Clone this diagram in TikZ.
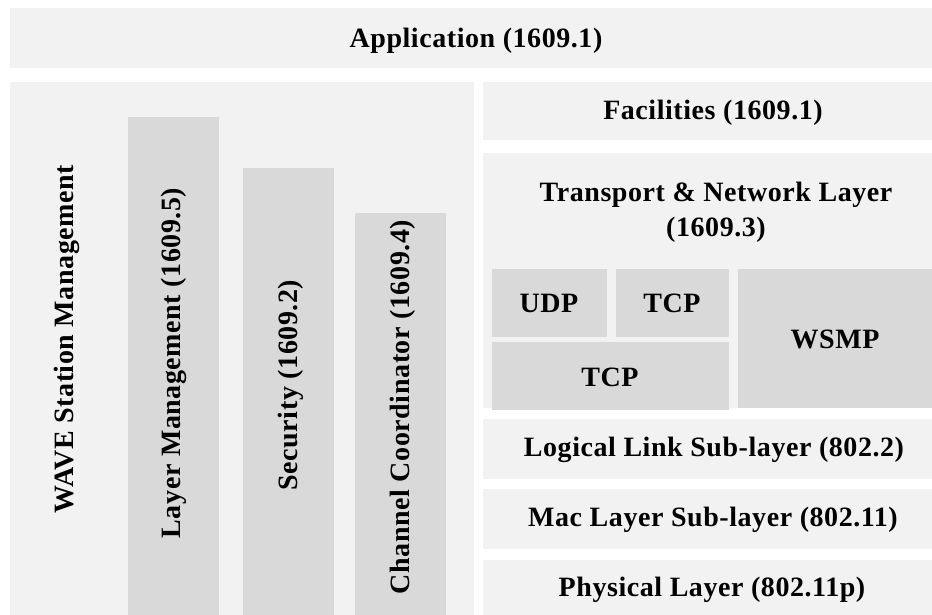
\documentclass[tikz,border=0pt]{standalone}
\usepackage{fontspec}
\setmainfont{Liberation Serif}[LetterSpace=2]
\definecolor{panel}{HTML}{F2F2F2}
\definecolor{bar}{HTML}{D9D9D9}
\begin{document}
\begin{tikzpicture}[x=1pt,y=-1pt,
  lbl/.style={font=\fontsize{28}{35}\selectfont\bfseries, text=black, inner sep=0pt, align=center},
  pbox/.style={fill=panel, draw=none},
  dbox/.style={fill=bar, draw=none}]
\fill[white] (0,0) rectangle (932,615);
\useasboundingbox (0,0) rectangle (932,615);
% panels
\fill[pbox] (10,8) rectangle (932,68);
\fill[pbox] (10,82) rectangle (474,615);
\fill[pbox] (483,82) rectangle (932,140);
\fill[pbox] (483,153) rectangle (932,408);
\fill[pbox] (483,419) rectangle (932,479);
\fill[pbox] (483,489) rectangle (932,549);
\fill[pbox] (483,560) rectangle (932,615);
% darker boxes
\fill[dbox] (128,117) rectangle (219,615);
\fill[dbox] (243,168) rectangle (334,615);
\fill[dbox] (355,213) rectangle (446,615);
\fill[dbox] (492,269) rectangle (607,337);
\fill[dbox] (616,269) rectangle (729,337);
\fill[dbox] (492,342) rectangle (729,410);
\fill[dbox] (738,269) rectangle (932,408);
% labels
\node[lbl] (app) at (476,41) {Application (1609.1)};
\node[lbl] (fac) at (713,113) {Facilities (1609.1)};
\node[lbl] (tnl) at (716,212) {Transport \& Network Layer\\(1609.3)};
\node[lbl] (udp) at (549,303) {UDP};
\node[lbl] (tcp1) at (672,303) {TCP};
\node[lbl] (tcp2) at (610,377) {TCP};
\node[lbl] (wsmp) at (835,339) {WSMP};
\node[lbl] (llc) at (714,450) {Logical Link Sub-layer (802.2)};
\node[lbl] (mac) at (713,520) {Mac Layer Sub-layer (802.11)};
\node[lbl] (phy) at (712,590) {Physical Layer (802.11p)};
\node[lbl, rotate=90] (wsm) at (67,339) {WAVE Station Management};
\node[lbl, rotate=90] (lm) at (174,363) {Layer Management (1609.5)};
\node[lbl, rotate=90] (sec) at (291,385) {Security (1609.2)};
\node[lbl, rotate=90] (cc) at (403,407) {Channel Coordinator (1609.4)};
\end{tikzpicture}
\end{document}
